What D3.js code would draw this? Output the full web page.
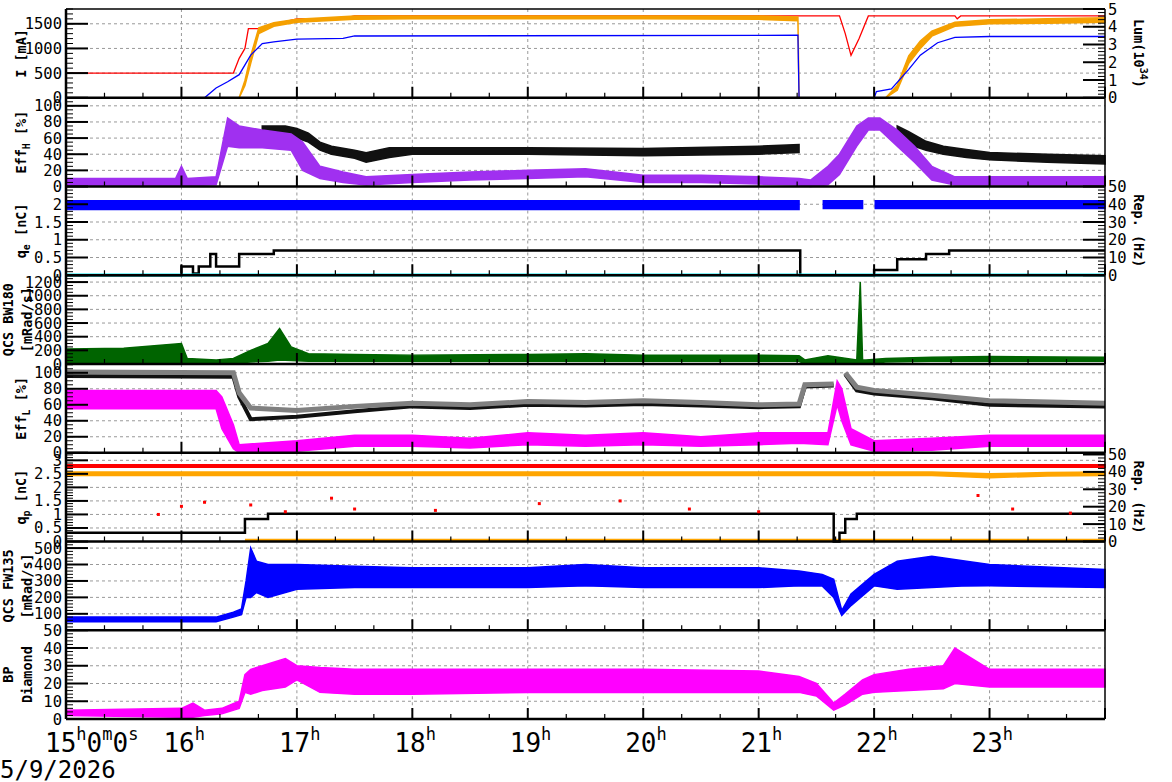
<!DOCTYPE html>
<html><head><meta charset="utf-8">
<script src="https://cdn.jsdelivr.net/npm/d3@7"></script>
<style>body{margin:0;background:#fff}svg{display:block}text{font-family:"DejaVu Sans Mono",monospace}</style>
</head><body><svg id="c" width="1172" height="782"></svg>
<script>
// ---------- DATA (time in hours of day) ----------
const hourTicks=[16,17,18,19,20,21,22,23];
// Panel 1: beam currents (mA) and luminosity (1e34)
const curRedT=[15,16.45,16.5,16.55,16.58,16.7,16.78,16.85,17.0,17.4,17.5,21.7,21.75,21.8,21.87,21.95,22.7,22.72,22.75,24];
const curRedV=[500,500,800,1000,1400,1400,1500,1520,1600,1610,1660,1660,1300,860,1200,1660,1660,1600,1660,1660];
const curOrgT=[15,16.5,16.55,16.6,16.67,16.8,17.0,17.5,18,19,20,21,21.34,21.35,22.1,22.2,22.3,22.4,22.5,22.7,23,23.5,24];
const curOrgLo=[0,0,250,700,1300,1450,1530,1590,1600,1600,1600,1590,1560,0,0,150,700,1000,1250,1450,1500,1510,1530];
const curOrgHi=[0,0,350,850,1420,1520,1590,1660,1660,1660,1660,1660,1640,0,0,250,850,1150,1350,1530,1580,1600,1620];
const lumT=[15,16.2,16.3,16.4,16.5,16.6,16.7,16.8,17.0,17.4,17.5,21.34,21.35,22.0,22.02,22.15,22.3,22.4,22.55,22.7,23,24];
const lumV=[0,0,0.55,0.9,1.3,2.4,3.05,3.15,3.3,3.35,3.48,3.52,0,0,0.35,0.5,1.6,2.4,3.1,3.4,3.45,3.45];
// Panel 2: Eff_H (%)
const effHbT=[16.7,16.9,17.0,17.1,17.2,17.3,17.5,17.6,17.8,18,19,20,21,21.35];
const effHbLo=[62,63,60,55,45,40,35,30,36,40,40,38,40,42];
const effHbHi=[75,75,72,66,55,50,45,42,48,48,48,47,50,52];
const effHb2T=[22.2,22.3,22.45,22.6,22.8,23,23.5,24];
const effHb2Lo=[55,52,45,40,36,33,30,28];
const effHb2Hi=[75,68,56,50,46,42,40,38];
const effHpT=[15,15.95,16.0,16.05,16.3,16.4,16.5,16.7,16.95,17.05,17.2,17.4,17.6,18,18.5,19,19.5,20,20.5,21,21.35,21.45,21.6,21.7,21.85,21.95,22.05,22.2,22.35,22.5,22.7,23,24];
const effHpLo=[1,1,2,1,2,50,48,48,45,20,10,5,2,5,8,10,12,5,5,3,2,0,2,15,50,70,70,50,30,8,2,2,2];
const effHpHi=[10,10,25,10,12,85,75,70,65,55,25,18,12,15,18,20,22,14,14,12,10,8,25,40,75,85,85,70,50,25,12,12,12];
// Panel 3: q_e (nC), Rep (Hz)
const qeT=[15,21.35,21.36,21.55,21.56,21.9,21.91,22.0,22.01,24];
const qeLo=[1.85,1.85,null,null,1.88,1.88,null,null,1.88,1.88];
const qeHi=[2.1,2.1,null,null,2.1,2.1,null,null,2.1,2.1];
const repET=[15,16.0,16.1,16.15,16.25,16.3,16.5,16.8,21.35,21.36,22.0,22.15,22.2,22.45,22.65,24];
const repEV=[0,5,1,5,12,5,12,14,14,0,3,3,9,12,14,14];
// Panel 4: QCS BW180 (mRad/s)
const bwT=[15,15.5,16.0,16.05,16.3,16.45,16.6,16.75,16.85,16.95,17.1,17.5,18,19,19.5,20,21,21.35,21.4,21.6,21.85,21.88,21.9,21.93,22.1,22.5,23,24];
const bwLo=[0,0,0,0,0,10,30,40,60,50,40,40,40,40,40,40,40,40,0,0,0,0,0,0,30,40,40,40];
const bwHi=[220,230,300,80,60,80,200,300,520,250,150,140,130,140,150,130,130,120,60,120,60,1200,60,60,80,100,110,100];
// Panel 5: Eff_L (%)
const effLgT=[15,16.45,16.5,16.6,17,17.5,18,18.5,19,19.5,20,20.5,21,21.35,21.4,21.65,21.68,21.75,21.85,22,22.5,23,24];
const effLgV=[101,100,75,56,53,58,62,60,64,63,65,63,60,61,85,86,null,100,82,78,72,65,62];
const effLkV=[96,95,70,42,45,52,58,56,60,59,61,59,57,58,83,84,null,98,78,74,68,60,58];
const effLmT=[15,16.3,16.35,16.45,16.5,17,17.5,18,18.5,19,19.5,20,20.5,21,21.35,21.6,21.68,21.72,21.8,22,22.5,23,24];
const effLmLo=[55,55,30,5,0,2,8,8,6,10,8,10,8,10,12,10,60,40,10,2,3,8,8];
const effLmHi=[78,78,70,35,10,15,22,22,18,25,22,25,20,25,25,25,90,80,30,15,18,22,22];
// Panel 6: q_p (nC), Rep (Hz)
const qpRedT=[15,24]; const qpRedLo=[2.74,2.74]; const qpRedHi=[2.84,2.84];
const qpOrgT=[15,22.5,23,23.5,24]; const qpOrgLo=[2.44,2.44,2.36,2.42,2.44]; const qpOrgHi=[2.57,2.57,2.5,2.55,2.57];
const qpOrg0T=[16.55,24]; const qpOrg0V=[0.05,0.05];
const repPT=[15,16.55,16.75,21.65,21.7,21.75,21.85,24];
const repPV=[5,13,16,0,5,13,16,16];
const qpDotT=[15.8,16.0,16.2,16.6,16.9,17.3,17.5,18.2,19.1,19.8,20.4,21.0,22.9,23.2,23.7];
const qpDotV=[1.0,1.3,1.45,1.35,1.1,1.6,1.2,1.15,1.4,1.5,1.2,1.1,1.7,1.2,1.05];
// Panel 7: QCS FW135 (mRad/s)
const fwT=[15,16.3,16.45,16.52,16.56,16.6,16.65,16.75,17,17.5,18,19,19.5,20,21,21.35,21.55,21.65,21.72,21.8,22.0,22.2,22.5,22.8,23,24];
const fwLo=[52,52,80,95,200,200,230,200,250,260,260,260,270,260,260,270,270,200,90,150,270,250,260,270,270,260];
const fwHi=[80,80,110,130,300,500,420,400,400,390,380,380,400,380,380,360,340,310,120,220,340,420,450,420,400,370];
// Panel 8: BP Diamond
const bpT=[15,16.0,16.1,16.2,16.35,16.5,16.55,16.6,16.7,16.9,17,17.2,17.5,18,19,20,21,21.35,21.5,21.65,21.75,21.9,22,22.3,22.6,22.7,23,24];
const bpLo=[2,1,1,2,3,6,15,14,16,18,22,15,14,14,15,15,15,15,13,5,8,14,15,16,17,20,18,18];
const bpHi=[5,6,9,5,6,10,25,28,30,34,30,29,28,28,28,28,27,24,20,9,14,22,25,28,30,40,28,28];

// ---------- LAYOUT ----------
const svg=d3.select('#c');
const X0=66,X1=1105,TOP=9,PH=88.75;
const x=d3.scaleLinear().domain([15,24]).range([X0,X1]);
const panels=[
 {dom:[0,1800],ticks:[0,500,1000,1500],minor:100,lab:['I [mA]'],right:{dom:[0,5],ticks:[0,1,2,3,4,5],minor:0.2}},
 {dom:[0,110],ticks:[0,20,40,60,80,100],minor:5,lab:['Eff_H [%]']},
 {dom:[0,2.5],ticks:[0,0.5,1,1.5,2],minor:0.1,lab:['q_e [nC]'],right:{dom:[0,50],ticks:[0,10,20,30,40,50],minor:2,lab:'Rep. (Hz)'}},
 {dom:[0,1300],ticks:[0,200,400,600,800,1000,1200],minor:50,lab:['QCS BW180','[mRad/s]']},
 {dom:[0,111],ticks:[0,20,40,60,80,100],minor:5,lab:['Eff_L [%]']},
 {dom:[0,3.28],ticks:[0,0.5,1,1.5,2,2.5,3],minor:0.1,lab:['q_p [nC]'],right:{dom:[0,51],ticks:[0,10,20,30,40,50],minor:2,lab:'Rep. (Hz)'}},
 {dom:[0,540],ticks:[100,200,300,400,500],minor:20,lab:['QCS FW135','[mRad/s]']},
 {dom:[0,50],ticks:[0,10,20,30,40,50],minor:2,lab:['BP','Diamond']}
];
panels.forEach((p,i)=>{p.top=TOP+i*PH;p.bot=p.top+PH;
 p.y=d3.scaleLinear().domain(p.dom).range([p.bot,p.top]);
 if(p.right)p.yr=d3.scaleLinear().domain(p.right.dom).range([p.bot,p.top]);});

const grid=svg.append('g'), marks=svg.append('g'), axes=svg.append('g');
function arr(t,lo,hi){return t.map((d,i)=>({t:d,lo:lo[i],hi:hi?hi[i]:lo[i]}));}
function band(p,y,t,lo,hi,col,curve){
 marks.append('path').datum(arr(t,lo,hi)).attr('fill',col).attr('stroke',col).attr('stroke-width',1.5)
  .attr('d',d3.area().defined(d=>d.lo!=null).curve(curve||d3.curveLinear).x(d=>x(d.t)).y0(d=>y(d.lo)).y1(d=>y(d.hi)));
}
function line(p,y,t,v,col,w,curve){
 marks.append('path').datum(arr(t,v)).attr('fill','none').attr('stroke',col).attr('stroke-width',w||1.3)
  .attr('d',d3.line().defined(d=>d.lo!=null).curve(curve||d3.curveLinear).x(d=>x(d.t)).y(d=>y(d.lo)));
}
panels.forEach((p,i)=>{
 hourTicks.forEach(h=>grid.append('line').attr('x1',x(h)).attr('x2',x(h)).attr('y1',p.top).attr('y2',p.bot)
   .attr('stroke','#999').attr('stroke-dasharray','3,3'));
 p.ticks.forEach(v=>{if(p.y(v)>p.top+1&&p.y(v)<p.bot-1)grid.append('line').attr('x1',X0).attr('x2',X1).attr('y1',p.y(v)).attr('y2',p.y(v))
   .attr('stroke','#999').attr('stroke-dasharray','3,3');});
 const mn=d3.range(p.dom[0],p.dom[1]+1e-9,p.minor);
 mn.forEach(v=>axes.append('line').attr('x1',X0).attr('x2',X0+7).attr('y1',p.y(v)).attr('y2',p.y(v)).attr('stroke','#000'));
 p.ticks.forEach(v=>{axes.append('line').attr('x1',X0).attr('x2',X0+22).attr('y1',p.y(v)).attr('y2',p.y(v)).attr('stroke','#000').attr('stroke-width',2);
   axes.append('text').attr('x',62).attr('y',p.y(v)+5.5).attr('text-anchor','end').attr('font-size',15.5).text(v);});
 if(p.right){const r=p.right;
   d3.range(r.dom[0],r.dom[1]+1e-9,r.minor).forEach(v=>axes.append('line').attr('x1',X1).attr('x2',X1-7).attr('y1',p.yr(v)).attr('y2',p.yr(v)).attr('stroke','#000'));
   r.ticks.forEach(v=>{axes.append('line').attr('x1',X1).attr('x2',X1-22).attr('y1',p.yr(v)).attr('y2',p.yr(v)).attr('stroke','#000').attr('stroke-width',2);
     axes.append('text').attr('x',1108).attr('y',p.yr(v)+5.5).attr('font-size',15.5).text(v);});
 }
 axes.append('line').attr('x1',X0).attr('x2',X1).attr('y1',p.bot).attr('y2',p.bot).attr('stroke','#000').attr('stroke-width',2.5);
 d3.range(15,24.001,1/3).forEach(h=>{const maj=Math.abs(h-Math.round(h))<1e-6;
   axes.append('line').attr('x1',x(h)).attr('x2',x(h)).attr('y1',p.bot).attr('y2',p.bot-(maj?11:5)).attr('stroke','#000').attr('stroke-width',maj?2:1.2);});
 const cy=(p.top+p.bot)/2;
 p.lab.forEach((L,k)=>{const n=p.lab.length;const lx=n==1?26:(k==0?13:32);
   const t=axes.append('text').attr('transform',`translate(${lx},${cy}) rotate(-90)`).attr('text-anchor','middle').attr('font-size',13.5).attr('font-weight','bold');
   const m=L.match(/^(\w+)_(\w)(.*)$/);
   if(m){t.append('tspan').text(m[1]);t.append('tspan').attr('dy',4).attr('font-size',10).text(m[2]);t.append('tspan').attr('dy',-4).text(m[3]);}
   else t.text(L);});
 if(p.right){const t=axes.append('text').attr('transform',`translate(1134,${cy}) rotate(90)`).attr('text-anchor','middle').attr('font-size',13.5).attr('font-weight','bold');
   if(i==0){t.text('Lum(10');t.append('tspan').attr('dy',-6).attr('font-size',10).text('34');t.append('tspan').attr('dy',6).text(')');}
   else t.text(p.right.lab);}
});
axes.append('line').attr('x1',X0).attr('x2',X0).attr('y1',TOP).attr('y2',TOP+8*PH).attr('stroke','#000').attr('stroke-width',2.5);
axes.append('line').attr('x1',X1).attr('x2',X1).attr('y1',TOP).attr('y2',TOP+8*PH).attr('stroke','#000').attr('stroke-width',1.5);
axes.append('line').attr('x1',X0).attr('x2',X1).attr('y1',TOP).attr('y2',TOP).attr('stroke','#000').attr('stroke-width',1.5);

const P=panels;
line(P[0],P[0].y,curRedT,curRedV,'#f00',1.3);
band(P[0],P[0].y,curOrgT,curOrgLo,curOrgHi,'#f5a000');
line(P[0],P[0].yr,lumT,lumV,'#0000ff',1.3);
band(P[1],P[1].y,effHbT,effHbLo,effHbHi,'#111');
band(P[1],P[1].y,effHb2T,effHb2Lo,effHb2Hi,'#111');
band(P[1],P[1].y,effHpT,effHpLo,effHpHi,'#a030f0');
band(P[2],P[2].y,qeT,qeLo,qeHi,'#0000ff');
line(P[2],P[2].yr,repET,repEV,'#000',2.5,d3.curveStepAfter);
line(P[2],P[2].y,[15,24],[0.01,0.01],'#00e5ee',3);
band(P[3],P[3].y,bwT,bwLo,bwHi,'#006400');
band(P[4],P[4].y,effLmT,effLmLo,effLmHi,'#ff00ff');
line(P[4],P[4].y,effLgT,effLkV,'#111',4);
line(P[4],P[4].y,effLgT,effLgV,'#808080',5);
band(P[5],P[5].y,qpOrgT,qpOrgLo,qpOrgHi,'#ffa500');
band(P[5],P[5].y,qpRedT,qpRedLo,qpRedHi,'#ff0000');
line(P[5],P[5].y,qpOrg0T,qpOrg0V,'#ffa500',3);
line(P[5],P[5].yr,repPT,repPV,'#000',2.5,d3.curveStepAfter);
marks.selectAll('rect.qd').data(qpDotT).join('rect').attr('x',d=>x(d)-1.5).attr('y',(d,i)=>P[5].y(qpDotV[i])-1.5).attr('width',3).attr('height',3).attr('fill','#f00');
band(P[6],P[6].y,fwT,fwLo,fwHi,'#0000ff');
band(P[7],P[7].y,bpT,bpLo,bpHi,'#ff00ff');

const xl=svg.append('g').attr('font-size',26);
hourTicks.forEach(h=>{const t=xl.append('text').attr('x',x(h)-18).attr('y',752);t.append('tspan').text(h);t.append('tspan').attr('dy',-12).attr('font-size',17).text('h');});
const t0=xl.append('text').attr('x',45).attr('y',752);
t0.append('tspan').text('15');t0.append('tspan').attr('dy',-12).attr('font-size',17).text('h');
t0.append('tspan').attr('dy',12).text('0');t0.append('tspan').attr('dy',-12).attr('font-size',17).text('m');
t0.append('tspan').attr('dy',12).text('0');t0.append('tspan').attr('dy',-12).attr('font-size',17).text('s');
svg.append('text').attr('x',0).attr('y',778).attr('font-size',24).text('5/9/2026');
</script></body></html>
